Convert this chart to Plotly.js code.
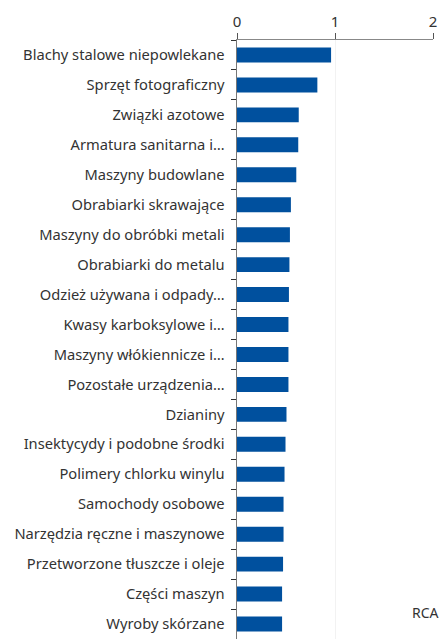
<!DOCTYPE html>
<html>
<head>
<meta charset="utf-8">
<script src="https://cdn.plot.ly/plotly-3.0.1.min.js"></script>
<style>html,body{margin:0;padding:0;background:#fff;}#chart{width:440px;height:639px;}</style>
</head>
<body>
<div id="chart"></div>
<script>
const categories = [
  "Blachy stalowe niepowlekane",
  "Sprzęt fotograficzny",
  "Związki azotowe",
  "Armatura sanitarna i…",
  "Maszyny budowlane",
  "Obrabiarki skrawające",
  "Maszyny do obróbki metali",
  "Obrabiarki do metalu",
  "Odzież używana i odpady…",
  "Kwasy karboksylowe i…",
  "Maszyny włókiennicze i…",
  "Pozostałe urządzenia…",
  "Dzianiny",
  "Insektycydy i podobne środki",
  "Polimery chlorku winylu",
  "Samochody osobowe",
  "Narzędzia ręczne i maszynowe",
  "Przetworzone tłuszcze i oleje",
  "Części maszyn",
  "Wyroby skórzane"
];
const rcaValues = [0.96, 0.82, 0.63, 0.625, 0.605, 0.55, 0.54, 0.535, 0.53, 0.525,
                   0.525, 0.525, 0.505, 0.495, 0.485, 0.475, 0.475, 0.47, 0.46, 0.46];
const xTicks = [0, 1, 2];
const axisTitle = "RCA";

const fontFamily = "'Noto Sans', sans-serif";

Plotly.newPlot('chart', [{
  type: 'bar',
  orientation: 'h',
  x: rcaValues,
  y: categories,
  marker: {color: '#00509e'},
  hoverinfo: 'x+y'
}], {
  width: 440, height: 639,
  margin: {l: 237, r: 7, t: 40, b: 0},
  paper_bgcolor: '#fff', plot_bgcolor: '#fff',
  bargap: 0.5,
  showlegend: false,
  font: {family: fontFamily, size: 14, color: '#333'},
  xaxis: {
    side: 'top', range: [0, 2], tickvals: xTicks, ticktext: xTicks.map(String),
    showline: true, linecolor: '#888', linewidth: 1,
    ticks: 'outside', ticklen: 6, tickcolor: '#555', tickwidth: 1,
    showgrid: true, gridcolor: '#f2f2f2', gridwidth: 1,
    zeroline: false, fixedrange: true,
    tickfont: {family: fontFamily, size: 15, color: '#333'}
  },
  yaxis: {
    type: 'category', autorange: 'reversed',
    showline: true, linecolor: '#777', linewidth: 1.5,
    ticks: 'outside', tickson: 'boundaries', ticklen: 5, tickcolor: '#333', tickwidth: 1,
    ticklabelstandoff: 8,
    showgrid: false, zeroline: false, fixedrange: true,
    tickfont: {family: fontFamily, size: 14.7, color: '#333'}
  },
  annotations: [{
    text: axisTitle, xref: 'paper', yref: 'paper', x: 0.885, y: 0.045,
    xanchor: 'left', yanchor: 'middle', showarrow: false,
    font: {family: fontFamily, size: 14, color: '#333'}
  }]
}, {displayModeBar: false, staticPlot: true});
</script>
</body>
</html>
